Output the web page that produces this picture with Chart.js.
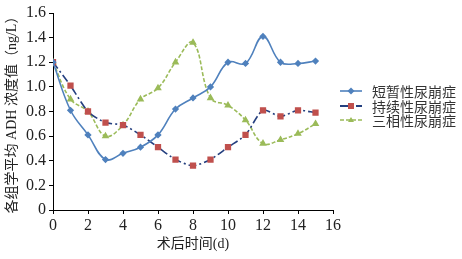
<!DOCTYPE html>
<html>
<head>
<meta charset="utf-8">
<script src="https://cdn.jsdelivr.net/npm/chart.js@4"></script>
<style>
  html, body { margin: 0; padding: 0; background: #fff; }
  #wrap { position: relative; width: 462px; height: 259px; }
  #legend { position: absolute; left: 339px; top: 84px; font: 14px "Noto Sans CJK SC", sans-serif; color: #333; }
  #legend div { height: 14.5px; line-height: 14.5px; display: flex; align-items: center; white-space: nowrap; }
  #legend svg { margin-right: 9px; }
</style>
</head>
<body>
<div id="wrap">
  <canvas id="adhChart" width="462" height="259"></canvas>
  <div id="legend"></div>
</div>
<script>
// 术后天数
const days = [0, 1, 2, 3, 4, 5, 6, 7, 8, 9, 10, 11, 12, 13, 14, 15]

const seriesNames = [
    '短暂性尿崩症',
    '持续性尿崩症',
    '三相性尿崩症'
]

const transientDI = [1.2, 0.81, 0.61, 0.41, 0.46, 0.51, 0.61, 0.82, 0.91, 1.0, 1.2, 1.19, 1.41, 1.2, 1.19, 1.21]
const persistentDI = [1.2, 1.01, 0.8, 0.71, 0.69, 0.61, 0.51, 0.41, 0.36, 0.41, 0.51, 0.61, 0.81, 0.76, 0.81, 0.79]
const triphasicDI = [1.2, 0.9, 0.8, 0.6, 0.69, 0.9, 0.99, 1.2, 1.36, 0.91, 0.85, 0.73, 0.54, 0.57, 0.62, 0.7]

const xTicks = [0, 2, 4, 6, 8, 10, 12, 14, 16]
const yTicks = [0, 0.2, 0.4, 0.6, 0.8, 1, 1.2, 1.4, 1.6]

const toPoints = vals => vals.map((v, i) => ({ x: days[i], y: v }));

const blue = '#4F81BD'
const red = '#C0504D'
const navy = '#243F7F'
const green = '#9BBB59'

const serif = 'Liberation Serif, Noto Sans CJK SC, serif'

const ctx = document.getElementById('adhChart');
new Chart(ctx, {
    type: 'line',
    data: {
        datasets: [{
            label: seriesNames[0],
            data: toPoints(transientDI),
            borderColor: blue,
            borderWidth: 1.6,
            backgroundColor: blue,
            pointStyle: 'rectRot',
            pointRadius: 2.5,
            tension: 0.4
        }, {
            label: seriesNames[1],
            data: toPoints(persistentDI),
            borderColor: navy,
            borderWidth: 1.6,
            borderDash: [8, 3, 2, 3],
            backgroundColor: red,
            pointBorderColor: red,
            pointStyle: 'rect',
            pointRadius: 3.3,
            tension: 0.25
        }, {
            label: seriesNames[2],
            data: toPoints(triphasicDI),
            borderColor: green,
            borderWidth: 1.6,
            borderDash: [4, 2],
            backgroundColor: green,
            pointStyle: 'triangle',
            pointRadius: 2.8,
            tension: 0.4
        }]
    },
    options: {
        responsive: false,
        animation: false,
        layout: { padding: { left: 0, right: 129, top: 13, bottom: 0 } },
        plugins: {
            legend: { display: false },
            tooltip: { enabled: false }
        },
        scales: {
            x: {
                type: 'linear',
                min: 0,
                max: 16,
                afterBuildTicks: s => { s.ticks = xTicks.map(v => ({ value: v })); },
                afterFit: s => { s.height = 49; },
                grid: { drawOnChartArea: false, color: '#000', tickLength: 4 },
                border: { color: '#000', width: 1 },
                ticks: { color: '#222', padding: 2, font: { family: serif, size: 16 } },
                title: {
                    display: true,
                    text: '术后时间(d)',
                    color: '#222',
                    padding: { top: 0, bottom: 6 },
                    font: { family: serif, size: 14 }
                }
            },
            y: {
                min: 0,
                max: 1.6,
                afterBuildTicks: s => { s.ticks = yTicks.map(v => ({ value: v })); },
                afterFit: s => { s.width = 53; },
                grid: { drawOnChartArea: false, color: '#000', tickLength: 4 },
                border: { color: '#000', width: 1 },
                ticks: { color: '#222', padding: 3, font: { family: serif, size: 16 } },
                title: {
                    display: true,
                    text: '各组学平均 ADH 浓度值（ng/L）',
                    color: '#222',
                    padding: { top: 4, bottom: 0 },
                    font: { family: serif, size: 14 }
                }
            }
        }
    }
});

// legend drawn as html so line + marker samples match the original
const legendSamples = [
    '<line x1="1" y1="6" x2="23" y2="6" stroke="' + blue + '" stroke-width="1.6"/><rect x="9.5" y="3.5" width="5" height="5" fill="' + blue + '" transform="rotate(45 12 6)"/>',
    '<line x1="1" y1="6" x2="23" y2="6" stroke="' + navy + '" stroke-width="2" stroke-dasharray="8,3,2,3"/><rect x="9" y="3" width="6" height="6" fill="' + red + '"/>',
    '<line x1="1" y1="6" x2="23" y2="6" stroke="' + green + '" stroke-width="1.6" stroke-dasharray="4,2"/><path d="M12 3 L15 8 L9 8 Z" fill="' + green + '"/>'
]
document.getElementById('legend').innerHTML = seriesNames.map((name, i) =>
    '<div><svg width="24" height="12">' + legendSamples[i] + '</svg><span>' + name + '</span></div>'
).join('');
</script>
</body>
</html>
